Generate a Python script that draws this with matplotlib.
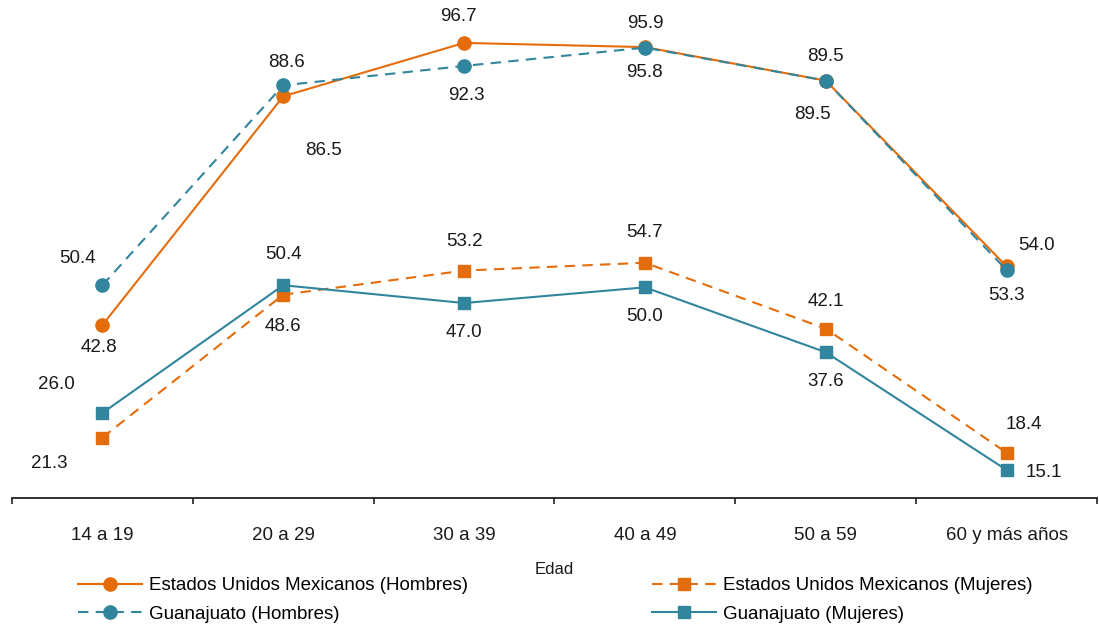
import matplotlib
matplotlib.use("Agg")
import matplotlib.pyplot as plt
import numpy as np

plt.rcParams['font.family'] = ['Liberation Sans', 'DejaVu Sans']

categories = ["14 a 19", "20 a 29", "30 a 39", "40 a 49", "50 a 59", "60 y más años"]
eum_hombres = [42.8, 86.5, 96.7, 95.9, 89.5, 54.0]
gto_hombres = [50.4, 88.6, 92.3, 95.8, 89.5, 53.3]
eum_mujeres = [21.3, 48.6, 53.2, 54.7, 42.1, 18.4]
gto_mujeres = [26.0, 50.4, 47.0, 50.0, 37.6, 15.1]

# label offsets in pixels (dx, dy), y upwards
off_eum_h = [(-3, -22), (40, -54), (-6, 26), (0, 24), (0, 24), (30, 21)]
off_gto_h = [(-25, 27), (3, 23), (2, -30), (0, -25), (-13, -34), (0, -25)]
off_eum_m = [(-53, -26), (0, -32), (0, 29), (0, 30), (0, 27), (17, 28)]
off_gto_m = [(-46, 28), (0, 31), (0, -29), (0, -29), (0, -29), (37, -3)]

ORANGE = '#E46C0A'
TEAL = '#31859C'
FS = 13.5

fig = plt.figure(figsize=(10.99, 6.27), dpi=100)
ax = fig.add_axes([12/1099, 129/627, 1085/1099, 498/627])
x = np.arange(len(categories))

l1, = ax.plot(x, eum_hombres, color=ORANGE, lw=1.5, marker='o', ms=9.5, zorder=3,
              label='Estados Unidos Mexicanos (Hombres)')
l2, = ax.plot(x, gto_hombres, color=TEAL, lw=1.5, ls=(0, (5, 3.5)), marker='o', ms=9.5, zorder=4,
              label='Guanajuato (Hombres)')
l3, = ax.plot(x, eum_mujeres, color=ORANGE, lw=1.5, ls=(0, (5, 3.5)), marker='s', ms=9, zorder=3,
              label='Estados Unidos Mexicanos (Mujeres)')
l4, = ax.plot(x, gto_mujeres, color=TEAL, lw=1.5, marker='s', ms=9, zorder=4,
              label='Guanajuato (Mujeres)')

for vals, offs in [(eum_hombres, off_eum_h), (gto_hombres, off_gto_h),
                   (eum_mujeres, off_eum_m), (gto_mujeres, off_gto_m)]:
    for xi, v, (dx, dy) in zip(x, vals, offs):
        ax.annotate(f"{v:.1f}", (xi, v), xytext=(dx, dy), textcoords='offset pixels',
                    ha='center', va='center', fontsize=FS, color='#1a1a1a')

ax.set_xlim(-0.5, len(categories) - 0.5)
ax.set_ylim(9.75, 104.9)
for s in ['top', 'right', 'left']:
    ax.spines[s].set_visible(False)
ax.spines['bottom'].set_linewidth(1.3)
ax.spines['bottom'].set_color('#222222')
ax.set_yticks([])
ax.set_xticks(x)
ax.set_xticklabels(categories, fontsize=FS, color='#1a1a1a')
ax.set_xticks(np.arange(-0.5, len(categories)), minor=True)
ax.tick_params(axis='x', which='major', length=0, pad=21)
ax.tick_params(axis='x', which='minor', length=4, width=1.2, color='#222222', direction='out')
ax.set_xlabel('Edad', fontsize=12, color='#1a1a1a', labelpad=13)

fig.legend(handles=[l1, l2, l3, l4], loc='upper left', ncol=2,
           bbox_to_anchor=(78/1099, 1 - 577/627), frameon=False, fontsize=FS,
           borderpad=0, borderaxespad=0, handlelength=3.4, handletextpad=0.4,
           columnspacing=9.8, labelspacing=0.62)

fig.savefig('out.png', dpi=100)
